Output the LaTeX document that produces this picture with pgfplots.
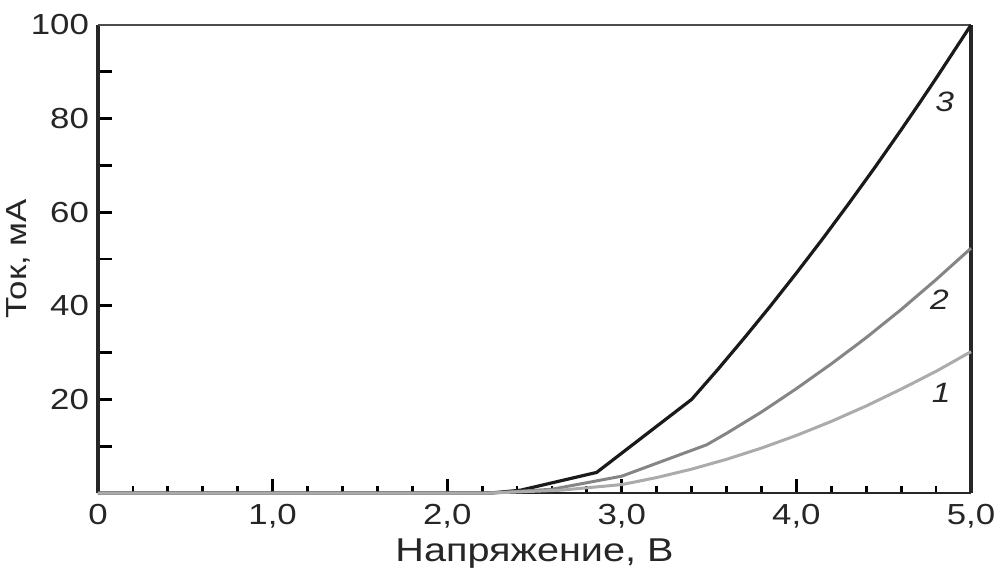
\documentclass[border=0pt]{standalone}
\usepackage{fontspec}
\setmainfont{Liberation Sans}[FakeStretch=1.2]
\usepackage{pgfplots}
\pgfplotsset{compat=1.18}

\definecolor{curveA}{HTML}{ABABAB}
\definecolor{curveB}{HTML}{858585}
\definecolor{curveC}{HTML}{1A1A1A}

\begin{document}
\begin{tikzpicture}
\useasboundingbox (-49pt,-38pt) rectangle (448.5pt,246.5pt);
\begin{axis}[
    at={(0,0)}, anchor=south west,
    scale only axis,
    width=436.5pt, height=234pt,
    xmin=0, xmax=5, ymin=0, ymax=100,
    axis line style={draw=none},
    tick pos=left,
    tick align=inside,
    xtick={0,1,2,3,4,5},
    xticklabels={0,{1,0},{2,0},{3,0},{4,0},{5,0}},
    minor x tick num=4,
    ytick={10,20,...,100},
    yticklabels={,20,,40,,60,,80,,100},
    major tick length=7pt,
    minor tick length=3.5pt,
    every tick/.style={black, line width=1.4pt},
    /pgf/number format/assume math mode=true,
    tick label style={font=\fontsize{14.5}{16}\selectfont, color=black!85},
    xticklabel style={yshift=-2pt},
    yticklabel style={xshift=-1pt},
    xlabel={Напряжение, В},
    ylabel={Ток, мА},
    xlabel style={font=\fontsize{16.5}{18}\selectfont, color=black!85, yshift=1.5pt},
    every axis y label/.style={at={(axis description cs:-0.0916,0.5)},
        rotate=90, anchor=center,
        font=\fontsize{14.5}{18}\selectfont, color=black!85},
    clip=false,
]
% frame: heavy left/right/bottom, thin top
\draw[black!85, line width=1.6pt] (rel axis cs:0,0) -- (rel axis cs:0,1);
\draw[black!85, line width=1.6pt] (rel axis cs:1,0) -- (rel axis cs:1,1);
\draw[black!85, line width=1.4pt] (rel axis cs:0,0) -- (rel axis cs:1,0);
\draw[black!70, line width=1pt] (rel axis cs:0,1) -- (rel axis cs:1,1);

% curve 3
\addplot[curveC, line width=1.6pt] coordinates {
  (0,0) (2.25,0) (2.42,0.6) (2.856,4.4) (3.40,20.0) (3.55,26.4)
  (3.7,33.05) (3.85,39.9) (4.0,47.0) (4.15,54.3) (4.3,61.85)
  (4.45,69.6) (4.6,77.6) (4.7,83.05) (4.8,88.6) (5.0,100)
};
% curve 2
\addplot[curveB, line width=1.5pt] coordinates {
  (0,0) (2.25,0) (2.6,0.8) (3.0,3.6) (3.486,10.3) (3.6,12.75)
  (3.8,17.3) (4.0,22.3) (4.2,27.6) (4.4,33.2) (4.6,39.2)
  (4.8,45.6) (5.0,52.3)
};
% curve 1
\addplot[curveA, line width=1.5pt] coordinates {
  (0,0) (2.25,0) (2.65,0.6) (3.0,1.8) (3.2,3.3) (3.4,5.1)
  (3.6,7.2) (3.8,9.6) (4.0,12.3) (4.2,15.3) (4.4,18.6)
  (4.6,22.2) (4.8,26.0) (5.0,30.2)
};

\node[font=\fontsize{14}{16}\selectfont\itshape, black!85] at (axis cs:4.85,83.6) {3};
\node[font=\fontsize{14}{16}\selectfont\itshape, black!85] at (axis cs:4.82,41.2) {2};
\node[font=\fontsize{14}{16}\selectfont\itshape, black!85] at (axis cs:4.83,21.4) {1};
\end{axis}
\end{tikzpicture}
\end{document}
